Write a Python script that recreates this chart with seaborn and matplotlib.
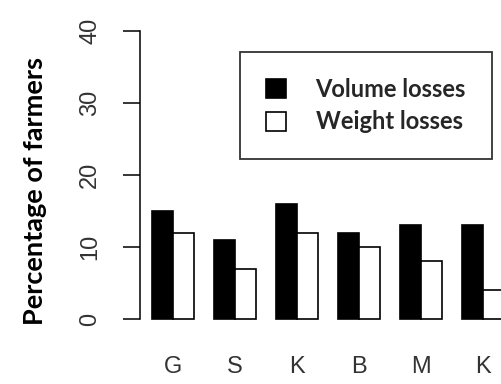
import matplotlib
matplotlib.use("Agg")
import matplotlib.pyplot as plt
import seaborn as sns
import pandas as pd
from matplotlib.patches import Patch

sites = ["G", "S", "K1", "B", "M", "K2"]
site_labels = ["G", "S", "K", "B", "M", "K"]
volume_losses = [15, 11, 16, 12, 13, 13]
weight_losses = [12, 7, 12, 10, 8, 4]
series = ["Volume losses", "Weight losses"]
yticks = [0, 10, 20, 30, 40]

df = pd.DataFrame({
    "site": sites * 2,
    "value": volume_losses + weight_losses,
    "type": [series[0]] * len(sites) + [series[1]] * len(sites),
})

sns.set_style("white")
plt.rcParams["font.family"] = ["Liberation Sans", "DejaVu Sans"]

W, H = 502, 384
fig = plt.figure(figsize=(W / 100, H / 100), dpi=100)
ax = fig.add_axes([140 / W, (H - 330) / H, (W - 140) / W, 310 / H])

sns.barplot(data=df, x="site", y="value", hue="type", order=sites,
            hue_order=series, palette=["black", "white"], edgecolor="black",
            linewidth=1.2, width=0.68, gap=0, legend=False, ax=ax,
            saturation=1)

ax.set_xlim(-0.53, 5.31)
ax.set_ylim(-1.53, 41.53)
ax.set_yticks(yticks)
ax.set_yticklabels([str(t) for t in yticks], rotation=90, va="center")
ax.set_xticks(range(len(sites)))
ax.set_xticklabels(site_labels)
ax.tick_params(axis="y", length=12, width=1.1, pad=16, labelsize=17,
               labelcolor="#333333", color="black", left=True)
ax.tick_params(axis="x", length=0, pad=19, labelsize=17, labelcolor="#333333")
for s in ["top", "right", "bottom"]:
    ax.spines[s].set_visible(False)
ax.spines["left"].set_bounds(0, 40)
ax.spines["left"].set_linewidth(1.1)
ax.spines["left"].set_color("black")
ax.set_xlabel("")
ax.set_ylabel("Percentage of farmers", fontsize=19.5, fontweight="bold",
              family=["Lato", "DejaVu Sans"], color="black")
ax.yaxis.set_label_coords(-0.29, 0.448)
ax.yaxis.label.set_verticalalignment("center")

handles = [Patch(facecolor="black", edgecolor="black", linewidth=1.2),
           Patch(facecolor="white", edgecolor="black", linewidth=1.2)]
leg = ax.legend(handles, series, loc="upper left",
                bbox_to_anchor=(240 / W, 1 - 52 / H), bbox_transform=fig.transFigure,
                borderaxespad=0, frameon=True, fancybox=False, edgecolor="black",
                prop={"family": ["Lato", "DejaVu Sans"], "weight": "bold", "size": 17},
                handlelength=0.85, handleheight=0.85, handletextpad=1.25,
                borderpad=1.1, labelspacing=0.4)
leg.get_frame().set_linewidth(1.3)

fig.savefig("out.png", dpi=100)
